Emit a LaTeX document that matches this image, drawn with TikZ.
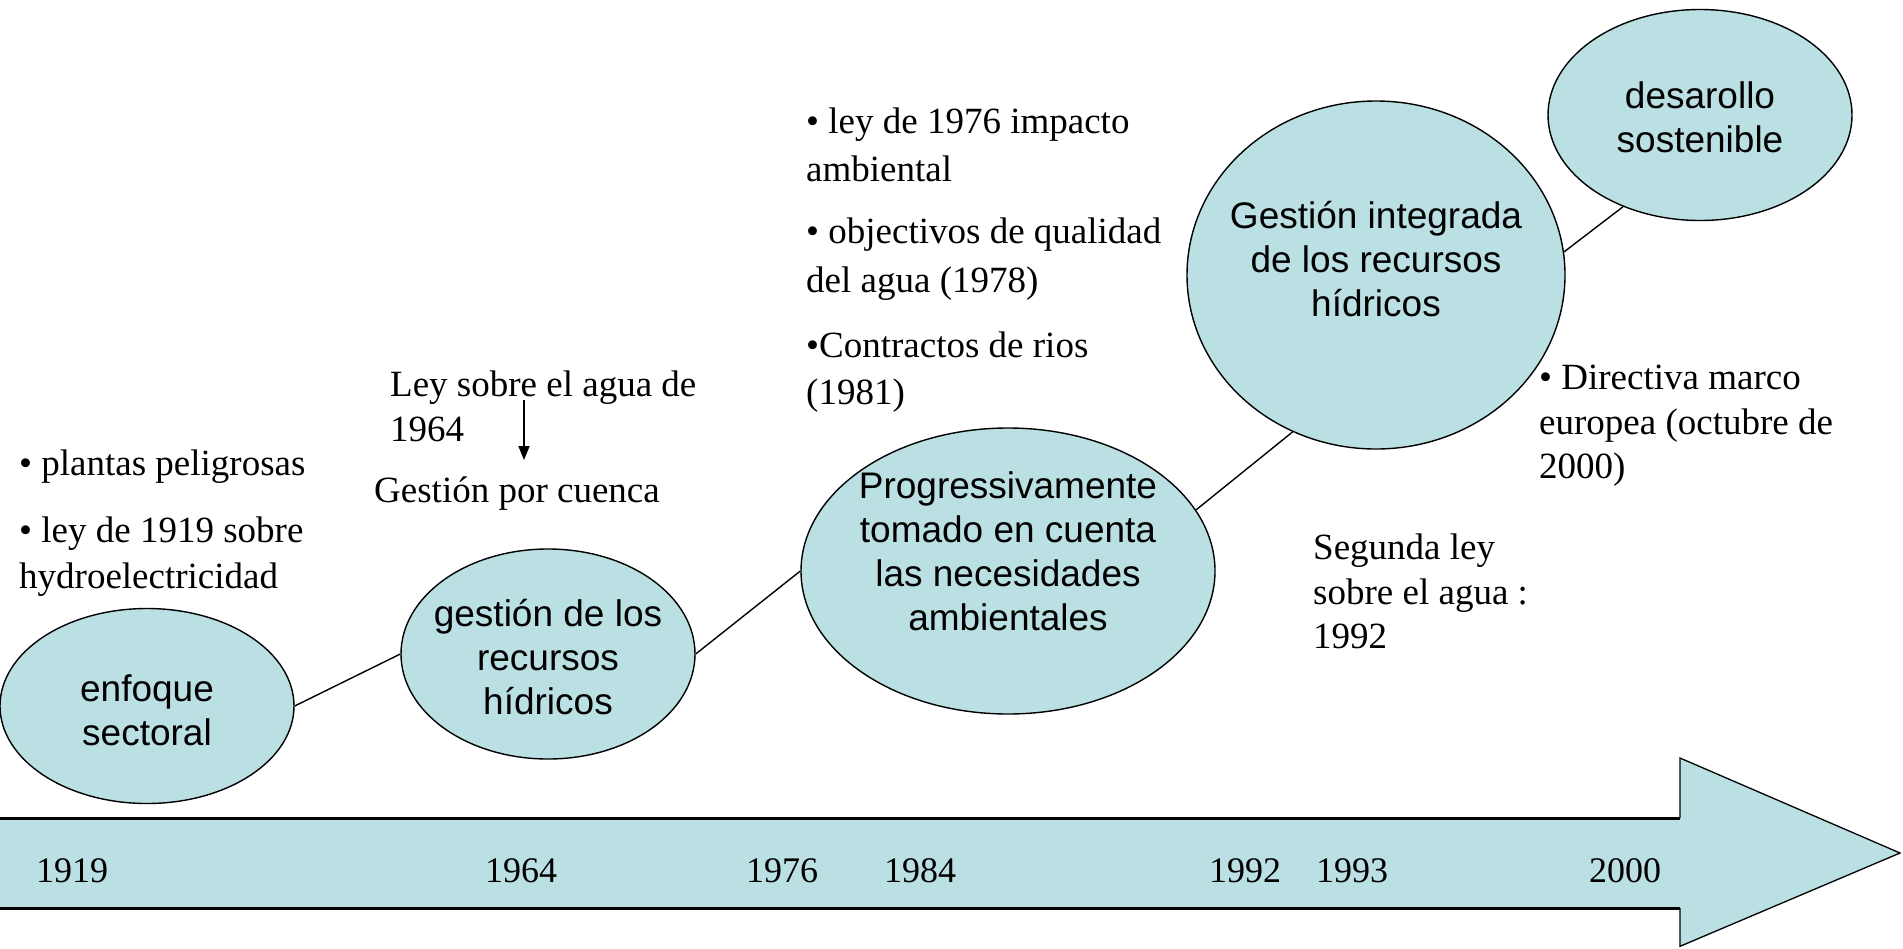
\documentclass[tikz,border=0pt]{standalone}
\usepackage{fontspec}
\setmainfont{Liberation Serif}
\setsansfont{Liberation Sans}
\usetikzlibrary{shapes.geometric,arrows.meta}
\definecolor{tl}{RGB}{187,224,227}
\begin{document}
\begin{tikzpicture}[x=1pt,y=-1pt,
  blob/.style={ellipse,draw=black,line width=1.4pt,fill=tl,inner sep=0pt},
  lbl/.style={font=\fontsize{37}{44}\selectfont\sffamily,align=center,inner sep=0pt},
  note/.style={font=\fontsize{37}{46}\selectfont,anchor=base west,inner sep=0pt},
  yr/.style={font=\fontsize{36}{40}\selectfont,anchor=base,inner sep=0pt},
  link/.style={line width=1.4pt}]
\useasboundingbox (0,0) rectangle (1903,948);

% timeline arrow
\path[fill=tl] (0,818) -- (1680,818) -- (1680,758) -- (1900,853) -- (1680,947) -- (1680,908) -- (0,908) -- cycle;
\draw[line width=1.3pt,line join=miter] (1680,818) -- (1680,758) -- (1900,853) -- (1680,946.3) -- (1680,908);
\draw[line width=3pt] (0,818) -- (1680,818);
\draw[line width=3pt] (0,908) -- (1680,908);

% years
\node[yr] (y1919) at (72,882) {1919};
\node[yr] (y1964) at (521,882) {1964};
\node[yr] (y1976) at (782,882) {1976};
\node[yr] (y1984) at (920,882) {1984};
\node[yr] (y1992) at (1245,882) {1992};
\node[yr] (y1993) at (1352,882) {1993};
\node[yr] (y2000) at (1625,882) {2000};

% ellipses
\node[blob,minimum width=294pt,minimum height=195pt] (e1) at (147,706) {};
\node[blob,minimum width=294pt,minimum height=210pt] (e2) at (548,654) {};
\node[blob,minimum width=414pt,minimum height=286pt] (e3) at (1008,571) {};
\node[blob,minimum width=378pt,minimum height=348pt] (e4) at (1376,275) {};
\node[blob,minimum width=304pt,minimum height=211pt] (e5) at (1700,115) {};

\node[lbl] (t1) at (147,710) {enfoque\\sectoral};
\node[lbl] (t2) at (548,657) {gestión de los\\recursos\\hídricos};
\node[lbl] (t3) at (1008,551) {Progressivamente\\tomado en cuenta\\las necesidades\\ambientales};
\node[lbl] (t4) at (1376,259) {Gestión integrada\\de los recursos\\hídricos};
\node[lbl] (t5) at (1700,117) {desarollo\\sostenible};

% connectors
\draw[link] (e1.east) -- (e2.west);
\draw[link] (e2.east) -- (e3.west);
\draw[link] (e3.18) -- (e4.242);
\draw[link] (e4.7) -- (e5.230);

% notes
\node[note] (n1) at (19,475) {• plantas peligrosas};
\node[note] (n2) at (19,542) {• ley de 1919 sobre};
\node[note] (n3) at (19,588) {hydroelectricidad};

\node[note] (m1) at (390,396) {Ley sobre el agua de};
\node[note] (m2) at (390,441) {1964};
\node[note] (m3) at (374,502) {Gestión por cuenca};
\coordinate (a1) at (524,400);
\coordinate (a2) at (524,460);
\draw[line width=1.6pt,-{Triangle[length=14pt,width=11pt]}] (a1) -- (a2);

\node[note] (p1) at (806,133) {• ley de 1976 impacto};
\node[note] (p2) at (806,181) {ambiental};
\node[note] (p3) at (806,243) {• objectivos de qualidad};
\node[note] (p4) at (806,292) {del agua (1978)};
\node[note] (p5) at (806,357) {•Contractos de rios};
\node[note] (p6) at (806,404) {(1981)};

\node[note] (d1) at (1539,389) {• Directiva marco};
\node[note] (d2) at (1539,434) {europea (octubre de};
\node[note] (d3) at (1539,478) {2000)};

\node[note] (s1) at (1313,559) {Segunda ley};
\node[note] (s2) at (1313,604) {sobre el agua :};
\node[note] (s3) at (1313,648) {1992};
\end{tikzpicture}
\end{document}
